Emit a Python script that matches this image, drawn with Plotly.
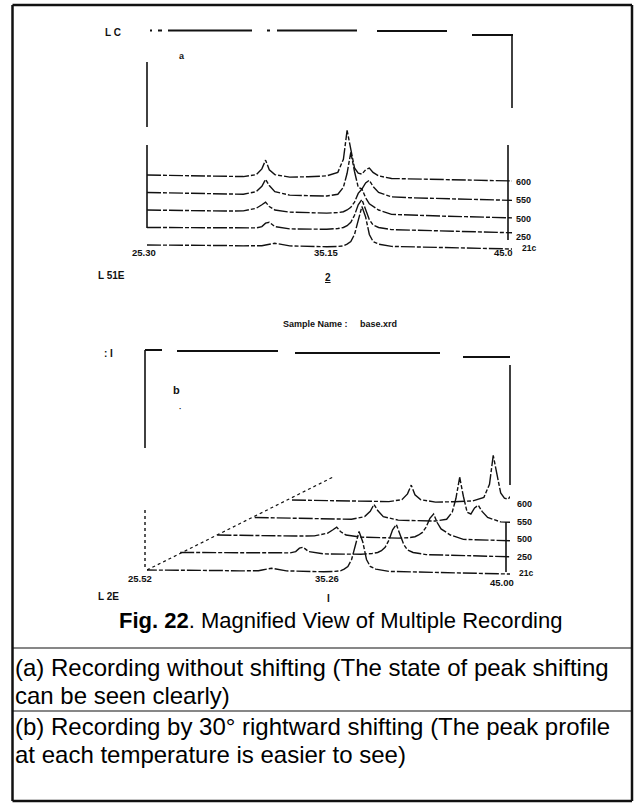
import plotly.graph_objects as go

W, H = 637, 804

# ---------------- data ----------------
TWO_THETA = [25.30, 26.50, 27.50, 28.50, 29.50, 30.50, 31.20, 31.50, 31.70, 31.90,
             32.20, 33.00, 34.00, 35.00, 35.60, 35.90, 36.10, 36.30, 36.50, 36.70,
             36.90, 37.10, 37.30, 37.50, 37.80, 38.50, 39.50, 40.50, 41.50, 42.50,
             43.50, 44.50, 45.00]

TEMPS = ["21c", "250", "500", "550", "600"]   # bottom -> top

I_RT = [0.00, 0.00, -0.02, -0.03, -0.03, -0.05, -0.05, -0.04, 0.00, 0.05,
        0.10, -0.05, -0.08, -0.10, -0.08, -0.05, 0.05, 0.20, 0.60, 1.40,
        2.20, 1.60, 0.60, 0.20, 0.05, -0.08, -0.10, -0.12, -0.15, -0.17,
        -0.20, -0.22, -0.23]
I_250 = [0.00, -0.01, 0.02, -0.02, -0.03, -0.04, -0.02, 0.05, 0.25, 0.30,
         0.05, -0.08, -0.10, -0.10, -0.06, 0.00, 0.10, 0.30, 0.70, 1.30,
         1.60, 1.00, 0.45, 0.15, 0.00, -0.12, -0.15, -0.18, -0.20, -0.22,
         -0.25, -0.28, -0.30]
I_500 = [0.00, -0.02, -0.04, -0.06, -0.06, -0.05, 0.10, 0.30, 0.45, 0.20,
         0.00, -0.12, -0.15, -0.18, -0.15, -0.10, 0.00, 0.15, 0.45, 0.95,
         1.20, 0.70, 0.35, 0.20, 0.00, -0.25, -0.30, -0.33, -0.36, -0.38,
         -0.42, -0.44, -0.45]
I_550 = [0.00, -0.03, -0.05, -0.07, -0.09, -0.10, 0.05, 0.35, 0.75, 0.40,
         0.05, -0.15, -0.18, -0.20, -0.10, 0.30, 1.10, 2.30, 1.20, 0.30,
         0.20, 0.55, 0.70, 0.35, 0.00, -0.25, -0.30, -0.33, -0.36, -0.39,
         -0.42, -0.44, -0.45]
I_600 = [0.00, -0.02, -0.04, -0.05, -0.07, -0.09, 0.02, 0.35, 0.85, 0.30,
         0.02, -0.12, -0.10, -0.05, 0.15, 0.90, 2.55, 1.40, 0.40, 0.10,
         0.05, 0.30, 0.40, 0.15, -0.05, -0.20, -0.22, -0.25, -0.27, -0.28,
         -0.30, -0.32, -0.34]
INTENSITIES = [I_RT, I_250, I_500, I_550, I_600]

TICKS_A = [25.30, 35.15, 45.00]
TICK_LABELS_A = ["25.30", "35.15", "45.0"]
TICKS_B = [25.52, 35.26, 45.00]
TICK_LABELS_B = ["25.52", "35.26", "45.00"]

STEP = 1.0          # vertical stacking step (intensity units)
SHIFT_DEG = 2.0     # horizontal shift per recording in (b)

# ---------------- helpers ----------------
def py(p):
    return 1 - p / H

def px(p):
    return p / W

BLACK = "#111"
fig = go.Figure()

# (a) no shift
for i, (t, vals) in enumerate(zip(TEMPS, INTENSITIES)):
    fig.add_trace(go.Scatter(
        x=TWO_THETA, y=[v + i * STEP for v in vals], mode="lines",
        line=dict(color=BLACK, width=1.4, dash="14px,2px,4px,2px"),
        xaxis="x", yaxis="y", showlegend=False, hoverinfo="skip"))

# (b) shifted right
for i, (t, vals) in enumerate(zip(TEMPS, INTENSITIES)):
    fig.add_trace(go.Scatter(
        x=[x + i * SHIFT_DEG for x in TWO_THETA], y=[v + i * STEP for v in vals],
        mode="lines",
        line=dict(color=BLACK, width=1.4, dash="14px,2px,4px,2px"),
        xaxis="x2", yaxis="y2", showlegend=False, hoverinfo="skip"))

# diagonal shift guide in (b)
k = 5.3
fig.add_trace(go.Scatter(
    x=[TICKS_B[0], TICKS_B[0] + k * SHIFT_DEG * 0.94], y=[0, k * STEP],
    mode="lines", line=dict(color=BLACK, width=1.2, dash="dot"),
    xaxis="x2", yaxis="y2", showlegend=False, hoverinfo="skip"))

ax_common = dict(showgrid=False, zeroline=False, showticklabels=False,
                 ticks="", showline=False, fixedrange=True)

fig.update_layout(
    width=W, height=H, margin=dict(l=0, r=0, t=0, b=0),
    paper_bgcolor="white", plot_bgcolor="white",
    xaxis=dict(domain=[px(147), px(512)], range=[25.30, 45.00], anchor="y", **ax_common),
    yaxis=dict(domain=[py(250), py(30)], range=[-5 / 17.5, 215 / 17.5], anchor="x", **ax_common),
    xaxis2=dict(domain=[px(147), px(510)], range=[25.52, 45.00], anchor="y2", **ax_common),
    yaxis2=dict(domain=[py(575), py(350)], range=[-5 / 17.5, 220 / 17.5], anchor="x2", **ax_common),
)

shapes = []
def pline(x0, y0, x1, y1, w=2.0, dash=None, color=BLACK):
    d = dict(type="line", xref="paper", yref="paper",
             x0=px(x0), y0=py(y0), x1=px(x1), y1=py(y1),
             line=dict(color=color, width=w))
    if dash:
        d["line"]["dash"] = dash
    shapes.append(d)

# outer border
pline(12.5, 5, 632, 5, 2.5)
pline(12.5, 5, 12.5, 801, 2.5)
pline(632, 5, 632, 801, 2.5)
pline(12.5, 801, 632, 801, 2.5)
# separators
pline(12.5, 648, 632, 648, 1.2)
pline(12.5, 711, 632, 711, 1.2)

# frame (a)
pline(150, 30.5, 152, 30.5, 2)
pline(158, 30.5, 162, 30.5, 2)
pline(168, 30.5, 252, 30.5, 2)
pline(267, 30.5, 270, 30.5, 2)
pline(277, 30.5, 357, 30.5, 2)
pline(377, 31, 447, 31, 2)
pline(472, 35, 513, 35, 2)
pline(147, 62, 147, 127, 1.6)
pline(147, 145, 147, 228, 1.6)
pline(512, 35, 512, 108, 1.6)
pline(508, 145, 508, 240, 1.6)

# frame (b)
pline(145, 350, 162, 350, 2)
pline(177, 351, 278, 351, 2)
pline(295, 353, 440, 353, 2)
pline(463, 357, 510, 357, 2)
pline(145, 350, 145, 448, 1.6)
pline(145, 510, 145, 568, 1.4, dash="dot")
pline(510, 365, 510, 485, 1.6)
pline(506, 522, 506, 572, 1.6)

fig.update_layout(shapes=shapes)

ann = []
SCAN_FONT = dict(family="Liberation Sans", size=9.5, color=BLACK)
def ptext(x, y, s, size=9.5, anchor="center", bold=True, font=None):
    f = dict(SCAN_FONT)
    f["size"] = size
    if font:
        f.update(font)
    ann.append(dict(xref="paper", yref="paper", x=px(x), y=py(y),
                    text=("<b>%s</b>" % s) if bold else s, showarrow=False,
                    xanchor=anchor, yanchor="middle", font=f))

# tick labels
for i, (tv, tl) in enumerate(zip(TICKS_A, TICK_LABELS_A)):
    ann.append(dict(xref="x", yref="paper", x=tv, y=py(252), text="<b>%s</b>" % tl,
                    showarrow=False, xanchor="center", yanchor="middle",
                    xshift=[-3, -4, -9][i], font=SCAN_FONT))
for i, (tv, tl) in enumerate(zip(TICKS_B, TICK_LABELS_B)):
    ann.append(dict(xref="x2", yref="paper", x=tv, y=py(578 + (4 if i == 2 else 0)),
                    text="<b>%s</b>" % tl,
                    showarrow=False, xanchor="center", yanchor="middle",
                    xshift=[-7, -2, -8][i], font=SCAN_FONT))

# temperature labels at right
for i, t in enumerate(TEMPS):
    if i == 0:
        ptext(529, 248, t, size=8.5)
        ptext(526, 573, t, size=8.5)
    else:
        ptext(523, 237 - (i - 1) * 18.3, t, size=9)
        ptext(524, 557 - (i - 1) * 17.7, t, size=9)

# small scan labels
ptext(113, 32, "L C", size=10)
ptext(182, 56, "a", size=9)
ptext(111, 275, "L 51E", size=10)
ptext(328, 278, "<u>2</u>", size=10)
ptext(340, 324, "Sample Name :     base.xrd", size=9)
ptext(108, 353, ": I", size=10)
ptext(176, 390, "b", size=11)
ptext(180, 408, "·", size=8)
ptext(108, 596, "L 2E", size=10)
ptext(328, 598, "I", size=10)

# caption & notes
CAP = dict(family="Liberation Sans", size=22, color="#000")
NOTE = dict(family="Liberation Sans", size=24, color="#000")
ann.append(dict(xref="paper", yref="paper", x=px(341), y=py(620),
                text="<b>Fig. 22</b>. Magnified View of Multiple Recording",
                showarrow=False, xanchor="center", yanchor="middle", font=CAP))
notes = [
    (667, "(a) Recording without shifting (The state of peak shifting"),
    (695, "can be seen clearly)"),
    (726, "(b) Recording by 30° rightward shifting (The peak profile"),
    (754, "at each temperature is easier to see)"),
]
for yy, s in notes:
    ann.append(dict(xref="paper", yref="paper", x=px(14), y=py(yy), text=s,
                    showarrow=False, xanchor="left", yanchor="middle",
                    borderpad=0, font=NOTE))

fig.update_layout(annotations=ann)
fig.write_html("out.html")
